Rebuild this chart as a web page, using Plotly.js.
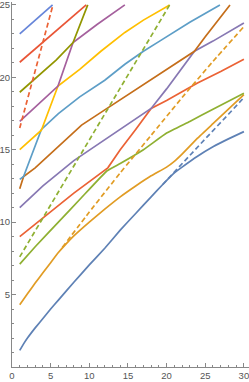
<!DOCTYPE html>
<html><head><meta charset="utf-8">
<script src="https://cdn.plot.ly/plotly-3.0.1.min.js"></script>
<style>html,body{margin:0;padding:0;background:#fff;}#chart{width:249px;height:382px;}</style>
</head><body><div id="chart"></div>
<script>
// ---- data ----
const blueX   = [1,1.5,2,3,4,5,6,8,10,12,14,16,18,19.5,21,22,24,26,28,30];
const blueY   = [1.15,1.6,2.0,2.7,3.35,4.0,4.62,5.85,7.05,8.2,9.45,10.6,11.75,12.6,13.4,13.8,14.55,15.2,15.75,16.25];
const blueDX  = [19.5,22,25,28,30];
const blueDY  = [12.6,14.05,15.75,17.45,18.6];
const orangeX = [1,2,3,4,5,6,7,8,10,12,14,16,18,20,21,22,24,26,28,30];
const orangeY = [4.3,5.05,5.8,6.5,7.2,7.9,8.5,9.05,10.0,10.9,11.75,12.5,13.2,13.8,14.2,14.7,15.8,16.8,17.8,18.8];
const orangeDX = [6.5,10,14,18,22,26,30];
const orangeDY = [8.25,10.7,13.4,16.0,18.6,21.1,23.5];
const greenX  = [1,3,6,9,12.3,14,17,20,23,26,30];
const greenY  = [7.1,8.3,10.0,11.7,13.55,14.05,15.0,16.15,16.95,17.8,18.9];
const greenDX = [1,20.4];
const greenDY = [7.6,25];
const redX    = [1,4,8,12.4,14,16,18,20,24,27,30];
const redY    = [9.0,10.3,12.0,13.75,15.0,16.4,17.85,18.4,19.6,20.4,21.25];
const redDX   = [1,5.3];
const redDY   = [16.5,25];
const purpleX = [1,4,8,12,15,18,20,22,23.6,26,28,30];
const purpleY = [11.0,12.5,14.25,15.7,16.75,17.85,19.2,20.6,21.8,22.5,23.1,23.75];
const brownX  = [1,1.5,3,5,7,9,12,15,18,21,23.6,25,26.5,28.2];
const brownY  = [12.3,13.15,13.75,14.75,15.75,16.7,17.75,18.8,19.85,20.85,21.8,22.8,23.85,25];
const lblueX  = [1,1.5,3.8,6,8.76,12,14.6,17,19.1,23,26.9];
const lblueY  = [12.95,13.15,16.4,17.5,18.65,19.8,20.9,21.8,22.5,23.8,25];
const yellowX = [1,3.8,5.95,8.76,11.5,14.6,17,19.75,20.4];
const yellowY = [15.0,16.35,19.4,20.55,21.8,23.1,23.95,24.8,25];
const magentaX = [1,5.95,7.9,11,14.6];
const magentaY = [16.95,19.4,22.4,23.65,25];
const oliveX  = [1,5.74,7.9,9.8];
const oliveY  = [18.97,21.2,22.4,25];
const red2X   = [1,4,9.6];
const red2Y   = [21.04,22.4,25];
const blue2X  = [1,5.25];
const blue2Y  = [23.0,25];
const xTicks = [0,5,10,15,20,25,30];
const yTicks = [5,10,15,20,25];

const W = 1.7, DASH = "5px,3px";
function tr(x, y, color, dashed) {
  return {x: x, y: y, type: 'scatter', mode: 'lines', hoverinfo: 'skip',
          line: {color: color, width: W, dash: dashed ? DASH : 'solid', shape: 'spline', smoothing: 0.3}};
}
function trL(x, y, color, dashed) {
  return {x: x, y: y, type: 'scatter', mode: 'lines', hoverinfo: 'skip',
          line: {color: color, width: W, dash: dashed ? DASH : 'solid'}};
}
const data = [
  tr(blueX, blueY, '#5E81B5'),
  tr(orangeX, orangeY, '#E19C24'),
  tr(greenX, greenY, '#8FB032'),
  trL(redX, redY, '#EB6235'),
  trL(purpleX, purpleY, '#8778B3'),
  trL(brownX, brownY, '#C56E1A'),
  trL(lblueX, lblueY, '#5D9EC7'),
  trL(yellowX, yellowY, '#FFBF00'),
  trL(magentaX, magentaY, '#A5609D'),
  trL(oliveX, oliveY, '#929600'),
  trL(red2X, red2Y, '#E95536'),
  trL(blue2X, blue2Y, '#6685D9'),
  trL(blueDX, blueDY, '#5E81B5', true),
  tr(orangeDX, orangeDY, '#E19C24', true),
  trL(greenDX, greenDY, '#8FB032', true),
  trL(redDX, redDY, '#EB6235', true)
];
const axisCommon = {
  showgrid: false, zeroline: false, showline: true, linecolor: '#888', linewidth: 1,
  ticks: 'inside', ticklen: 4, tickwidth: 1, tickcolor: '#888',
  tickfont: {family: 'Liberation Sans, Arial, sans-serif', size: 9.5, color: '#555'},
  ticklabeloverflow: 'allow', automargin: false,
  fixedrange: true
};
const layout = {
  width: 249, height: 382, showlegend: false,
  paper_bgcolor: '#fff', plot_bgcolor: '#fff',
  margin: {l: 12, r: 0, t: 2, b: 15},
  xaxis: Object.assign({}, axisCommon, {range: [0, 30.66], tickmode: 'array', tickvals: xTicks, ticktext: xTicks.map(String),
    minor: {dtick: 1, ticks: 'inside', ticklen: 2, tickcolor: '#888', showgrid: false}}),
  yaxis: Object.assign({}, axisCommon, {range: [0, 25.2], tickmode: 'array', tickvals: yTicks, ticktext: yTicks.map(String),
    ticklabelstandoff: -1,
    minor: {dtick: 1, ticks: 'inside', ticklen: 2, tickcolor: '#888', showgrid: false}})
};
Plotly.newPlot('chart', data, layout, {staticPlot: true, displayModeBar: false});
</script></body></html>
